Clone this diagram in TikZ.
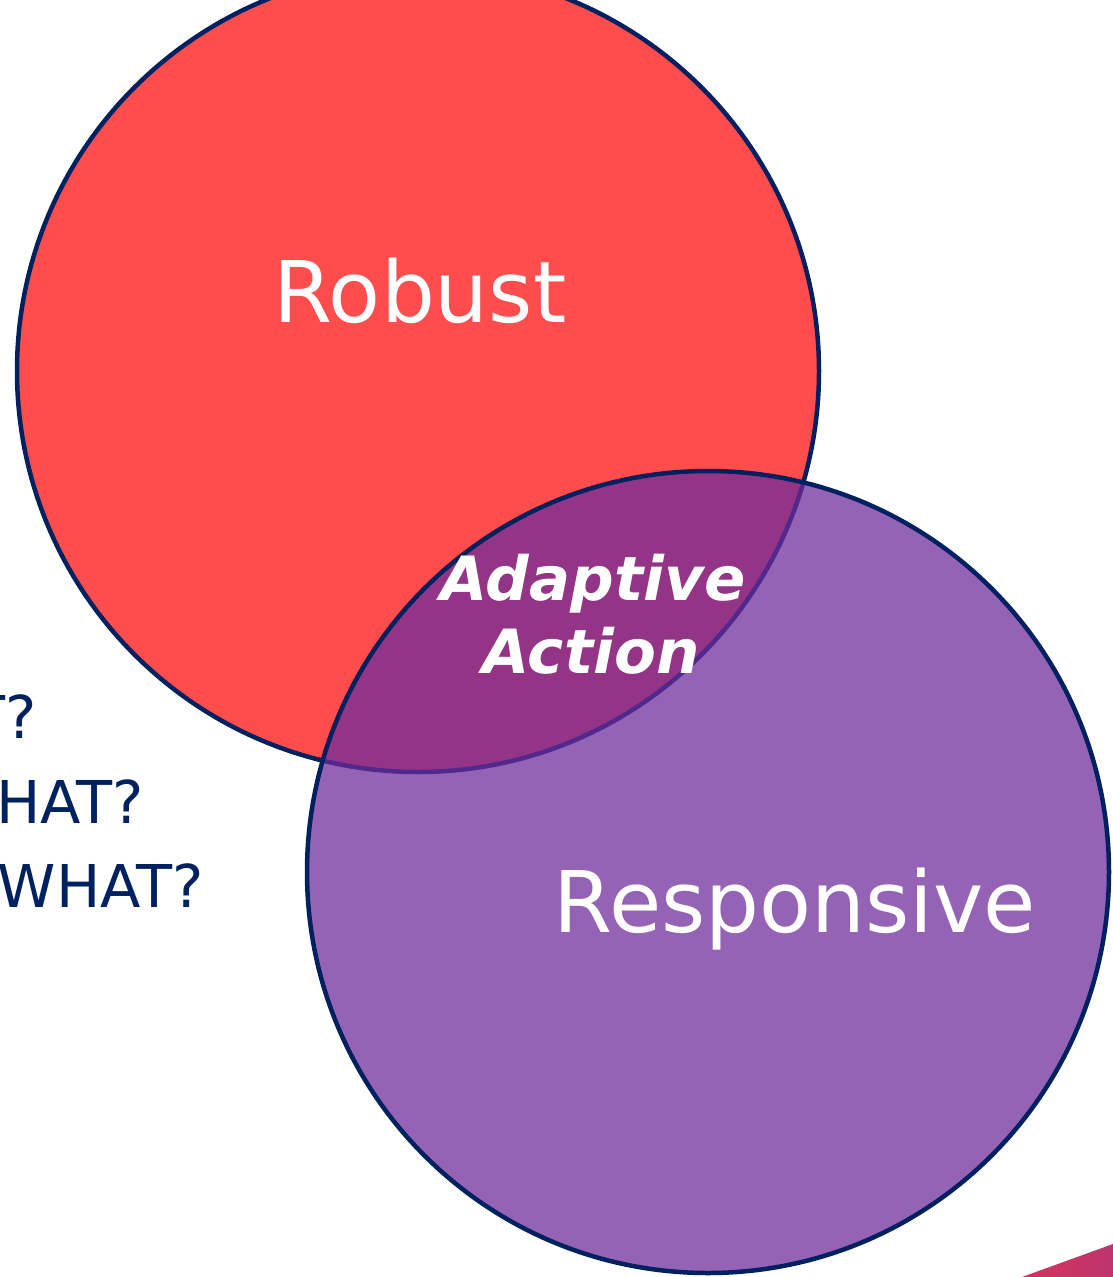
\documentclass[tikz,border=0pt]{standalone}
\usepackage{fontspec}
\setmainfont{DejaVu Sans}
\definecolor{navy}{RGB}{0,33,96}
\definecolor{robred}{RGB}{255,77,77}
\definecolor{respurple}{RGB}{110,44,156}
\definecolor{pinkA}{RGB}{214,50,92}
\definecolor{pinkB}{RGB}{190,52,110}
\begin{document}
\begin{tikzpicture}[x=1pt,y=-1pt,
  ring/.style={draw=navy,line width=4.5pt},
  bigtext/.style={text=white,font=\fontsize{85}{100}\selectfont,inner sep=0pt},
  midtext/.style={text=white,font=\fontsize{61}{72}\selectfont\bfseries\itshape,inner sep=0pt,align=center},
  sidetext/.style={text=navy,font=\fontsize{59}{70}\selectfont,inner sep=0pt,anchor=base east}]
\useasboundingbox (0,0) rectangle (1113,1277);
\clip (0,0) rectangle (1113,1277);
% pink corner
\shade[left color=pinkA,right color=pinkB] (1022,1277) -- (1113,1244) -- (1113,1277) -- cycle;
% left questions
\node[sidetext] (q1) at (37,738) {WHAT?};
\node[sidetext] (q2) at (144,823) {SO WHAT?};
\node[sidetext] (q3) at (204,907) {NOW WHAT?};
% robust circle
\node[circle,minimum size=802pt,inner sep=0pt,fill=robred,ring] (rob) at (418,371) {};
% responsive circle
\fill[respurple,fill opacity=0.74] (708,872) circle[radius=401];
\node[circle,minimum size=802pt,inner sep=0pt,ring] (res) at (708,872) {};
% labels
\node[bigtext,anchor=base] (robt) at (420,322) {Robust};
\node[bigtext,anchor=base] (rest) at (795,932) {Responsive};
\node[midtext,anchor=base] (ad1) at (593,600) {Adaptive};
\node[midtext,anchor=base] (ad2) at (591,673) {Action};
\end{tikzpicture}
\end{document}
